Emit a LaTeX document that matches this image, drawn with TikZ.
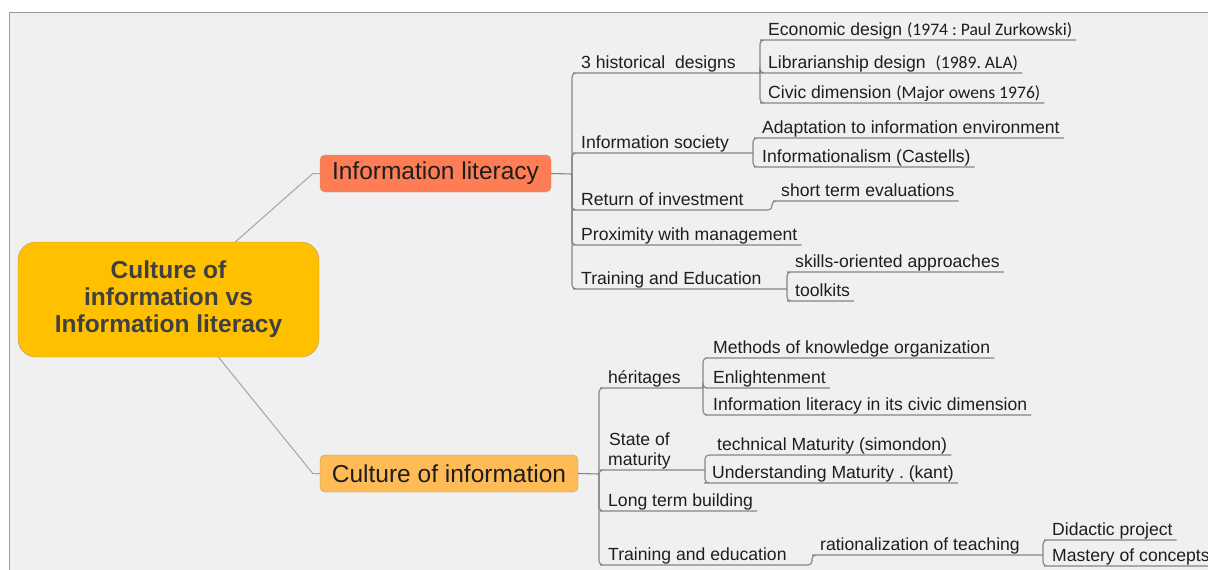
\documentclass[tikz,border=0pt]{standalone}
\usepackage{fontspec}
\setmainfont{Liberation Sans}
\newfontfamily\notefont{Carlito}
\frenchspacing
\definecolor{bgcol}{HTML}{F0F0F0}
\definecolor{framecol}{HTML}{9A9A9A}
\definecolor{rootcol}{HTML}{FFC000}
\definecolor{ilcol}{HTML}{FF7D55}
\definecolor{coicol}{HTML}{FFBB55}
\definecolor{edgecol}{HTML}{B49A6A}
\definecolor{branchcol}{HTML}{858585}
\definecolor{linkcol}{HTML}{A5A5A5}
\definecolor{leaftext}{HTML}{1E1E1E}
\definecolor{roottext}{HTML}{404040}

\begin{document}
\begin{tikzpicture}[x=1pt, y=-1pt,
  rootbox/.style={draw=edgecol, fill=rootcol, rounded corners=18pt, minimum width=301pt, minimum height=115pt, align=center, text=roottext, font=\bfseries\fontsize{24.5}{27}\selectfont},
  topic/.style={draw=edgecol, rounded corners=5pt, minimum height=37pt, inner xsep=0pt, inner ysep=0pt, text=leaftext, font=\fontsize{24.5}{28}\selectfont},
  leaf/.style={anchor=south west, inner xsep=4pt, inner ysep=0pt, text depth=4.5pt, text=leaftext, font=\fontsize{17.6}{20}\selectfont},
  branch/.style={draw=branchcol, line width=1.1pt, rounded corners=4pt},
  link/.style={draw=linkcol, line width=1pt}]
\useasboundingbox (0,0) rectangle (1208,570);
\fill[white] (0,0) rectangle (1208,570);
\fill[bgcol] (9,12) rectangle (1208,570);
\draw[framecol] (1208,12) -- (9,12) -- (9,570);

\node[rootbox] (root) at (168.5,299.5) {Culture of\\information vs\\Information literacy};
\node[topic, fill=ilcol, minimum width=231pt] (IL) at (435.5,173.5) {Information literacy};
\node[topic, fill=coicol, minimum width=258pt] (CoI) at (449,473.5) {Culture of information};

\coordinate (ILbar) at (572,174);
\coordinate (hdbar) at (760,73);
\coordinate (isbar) at (753,153);
\coordinate (ribar) at (772,210);
\coordinate (tebar) at (787,289);
\coordinate (CoIbar) at (599,474);
\coordinate (hebar) at (703,388);
\coordinate (smbar) at (705,470);
\coordinate (trbar) at (812,565);
\coordinate (rtbar) at (1043,555);

\node[leaf] (hd) at (577,73) {3 historical~ designs};
\node[leaf] (ec) at (764,40) {Economic design {\notefont(1974 : Paul Zurkowski)}};
\node[leaf] (lb) at (764,73) {Librarianship design~ {\notefont(1989. ALA)}};
\node[leaf] (cv) at (764,103) {Civic dimension {\notefont(Major owens 1976)}};
\node[leaf] (is) at (577,153) {Information society};
\node[leaf] (ad) at (758,138) {Adaptation to information environment};
\node[leaf] (ic) at (758,167) {Informationalism (Castells)};
\node[leaf] (ri) at (577,210) {Return of investment};
\node[leaf] (st) at (777,201) {short term evaluations};
\node[leaf] (pm) at (577,245) {Proximity with management};
\node[leaf] (te) at (577,289) {Training and Education};
\node[leaf] (sk) at (791,272) {skills-oriented approaches};
\node[leaf] (tk) at (791,301) {toolkits};

\node[leaf] (he) at (604,388) {héritages};
\node[leaf] (mk) at (709,358) {Methods of knowledge organization};
\node[leaf] (en) at (709,388) {Enlightenment};
\node[leaf] (ci) at (709,415) {Information literacy in its civic dimension};
\node[leaf, align=center] (sm) at (604,470) {State of\\maturity};
\node[leaf] (tm) at (713,455) {technical Maturity (simondon)};
\node[leaf] (um) at (708,483) {Understanding Maturity . (kant)};
\node[leaf] (lt) at (604,511) {Long term building};
\node[leaf] (tr) at (604,565) {Training and education};
\node[leaf] (rt) at (816,555) {rationalization of teaching};
\node[leaf] (dp) at (1048,540) {Didactic project};
\node[leaf] (mc) at (1048,566) {Mastery of concepts};

\draw[link] ([xshift=67pt]root.north) -- ([xshift=-7pt]IL.west) -- (IL.west);
\draw[link] ([xshift=50pt]root.south) -- ([xshift=-7pt]CoI.west) -- (CoI.west);
\draw[branch] (IL.east) -- (ILbar);
\draw[branch] (CoI.east) -- (CoIbar);

\foreach \n/\b in {hd/hdbar, is/isbar, te/tebar}
  \draw[branch] (ILbar) |- (\n.south west) -- (\b);
\draw[branch] (ILbar) |- (ri.south west) -- (ribar) |- (st.south west) -- (st.south east);
\draw[branch] (ILbar) |- (pm.south west) -- (pm.south east);
\foreach \n in {ec, lb, cv}
  \draw[branch] (hdbar) |- (\n.south west) -- (\n.south east);
\foreach \n in {ad, ic}
  \draw[branch] (isbar) |- (\n.south west) -- (\n.south east);
\foreach \n in {sk, tk}
  \draw[branch] (tebar) |- (\n.south west) -- (\n.south east);

\foreach \n/\b in {he/hebar, sm/smbar}
  \draw[branch] (CoIbar) |- (\n.south west) -- (\b);
\draw[branch] (CoIbar) |- (lt.south west) -- (lt.south east);
\draw[branch] (CoIbar) |- (tr.south west) -- (trbar) |- (rt.south west) -- (rtbar);
\foreach \n in {mk, en, ci}
  \draw[branch] (hebar) |- (\n.south west) -- (\n.south east);
\foreach \n in {tm, um}
  \draw[branch] (smbar) |- (\n.south west) -- (\n.south east);
\foreach \n in {dp, mc}
  \draw[branch] (rtbar) |- (\n.south west) -- (\n.south east);
\end{tikzpicture}
\end{document}
